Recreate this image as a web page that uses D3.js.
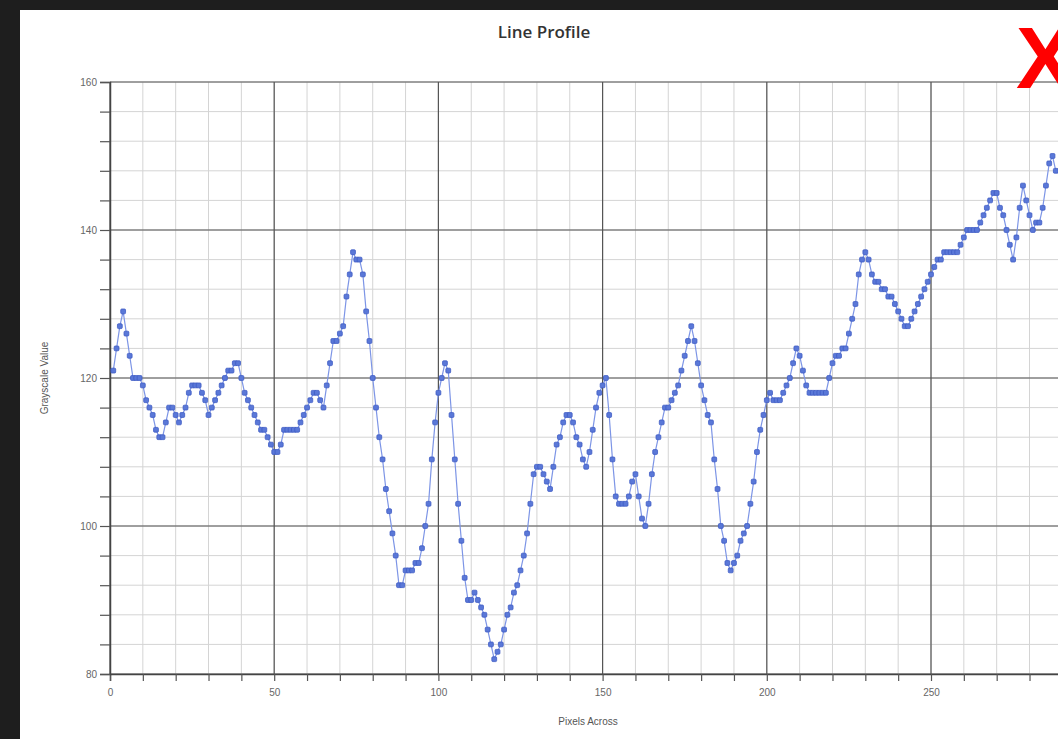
<!DOCTYPE html>
<html>
<head>
<meta charset="utf-8">
<script src="https://cdn.jsdelivr.net/npm/d3@7"></script>
<style>
  html, body { margin: 0; padding: 0; background: #1e1e1e; overflow: hidden; }
  svg { display: block; }
</style>
</head>
<body>
<script>

// pixel positions along the line (x) and their grayscale values (y)
var startPixel = 1;
var grayValues = [
  121, 124, 127, 129, 126, 123, 120, 120, 120, 119,   // 1-10
  117, 116, 115, 113, 112, 112, 114, 116, 116, 115,   // 11-20
  114, 115, 116, 118, 119, 119, 119, 118, 117, 115,   // 21-30
  116, 117, 118, 119, 120, 121, 121, 122, 122, 120,   // 31-40
  118, 117, 116, 115, 114, 113, 113, 112, 111, 110,   // 41-50
  110, 111, 113, 113, 113, 113, 113, 114, 115, 116,   // 51-60
  117, 118, 118, 117, 116, 119, 122, 125, 125, 126,   // 61-70
  127, 131, 134, 137, 136, 136, 134, 129, 125, 120,   // 71-80
  116, 112, 109, 105, 102, 99, 96, 92, 92, 94,        // 81-90
  94, 94, 95, 95, 97, 100, 103, 109, 114, 118,        // 91-100
  120, 122, 121, 115, 109, 103, 98, 93, 90, 90,       // 101-110
  91, 90, 89, 88, 86, 84, 82, 83, 84, 86,             // 111-120
  88, 89, 91, 92, 94, 96, 99, 103, 107, 108,          // 121-130
  108, 107, 106, 105, 108, 111, 112, 114, 115, 115,   // 131-140
  114, 112, 111, 109, 108, 110, 113, 116, 118, 119,   // 141-150
  120, 115, 109, 104, 103, 103, 103, 104, 106, 107,   // 151-160
  104, 101, 100, 103, 107, 110, 112, 114, 116, 116,   // 161-170
  117, 118, 119, 121, 123, 125, 127, 125, 122, 119,   // 171-180
  117, 115, 114, 109, 105, 100, 98, 95, 94, 95,       // 181-190
  96, 98, 99, 100, 103, 106, 110, 113, 115, 117,      // 191-200
  118, 117, 117, 117, 118, 119, 120, 122, 124, 123,   // 201-210
  121, 119, 118, 118, 118, 118, 118, 118, 120, 122,   // 211-220
  123, 123, 124, 124, 126, 128, 130, 134, 136, 137,   // 221-230
  136, 134, 133, 133, 132, 132, 131, 131, 130, 129,   // 231-240
  128, 127, 127, 128, 129, 130, 131, 132, 133, 134,   // 241-250
  135, 136, 136, 137, 137, 137, 137, 137, 138, 139,   // 251-260
  140, 140, 140, 140, 141, 142, 143, 144, 145, 145,   // 261-270
  143, 142, 140, 138, 136, 139, 143, 146, 144, 142,   // 271-280
  140, 141, 141, 143, 146, 149, 150, 148              // 281-288
];

var xMajorTicks = [0, 50, 100, 150, 200, 250];
var yMajorTicks = [80, 100, 120, 140, 160];

var chartTitle = "Line Profile";
var xLabel = "Pixels Across";
var yLabel = "Grayscale Value";


window.onload = function() {

  var width = 1058;
  var height = 739;

  // outer svg with the dark frame and white panel
  var svg = d3.select("body")
              .append("svg")
              .attr("width", width)
              .attr("height", height);

  svg.append("rect")
     .attr("x", 20)
     .attr("y", 10)
     .attr("width", width - 20)
     .attr("height", height - 10)
     .attr("fill", "#ffffff");

  var points = grayValues.map(function(v, i) {
    return {x: startPixel + i, y: v};
  });

  makeChart(svg, points);
};


function makeChart(svg, points) {
  /*
  Draws grid, axes, labels and the profile line
  */

  // scales: x axis runs past the right edge of the window
  var xScale = d3.scaleLinear()
                 .domain([0, 300])
                 .range([110, 110 + 300 * 3.284]);
  var yScale = d3.scaleLinear()
                 .domain([80, 160])
                 .range([674, 82]);

  var plotRight = 1100;

  // minor grid
  var grid = svg.append("g");
  grid.selectAll(".xminor")
      .data(d3.range(0, 301, 10))
      .enter()
      .append("line")
      .attr("x1", function(d) { return xScale(d); })
      .attr("x2", function(d) { return xScale(d); })
      .attr("y1", yScale(160))
      .attr("y2", yScale(80))
      .attr("stroke", "#d4d4d4")
      .attr("stroke-width", 1);
  grid.selectAll(".yminor")
      .data(d3.range(80, 161, 4))
      .enter()
      .append("line")
      .attr("x1", xScale(0))
      .attr("x2", plotRight)
      .attr("y1", function(d) { return yScale(d); })
      .attr("y2", function(d) { return yScale(d); })
      .attr("stroke", "#d4d4d4")
      .attr("stroke-width", 1);

  // major grid
  grid.selectAll(".xmajor")
      .data(xMajorTicks)
      .enter()
      .append("line")
      .attr("x1", function(d) { return xScale(d); })
      .attr("x2", function(d) { return xScale(d); })
      .attr("y1", yScale(160))
      .attr("y2", yScale(80))
      .attr("stroke", "#555555")
      .attr("stroke-width", 1.2);
  grid.selectAll(".ymajor")
      .data(yMajorTicks)
      .enter()
      .append("line")
      .attr("x1", xScale(0))
      .attr("x2", plotRight)
      .attr("y1", function(d) { return yScale(d); })
      .attr("y2", function(d) { return yScale(d); })
      .attr("stroke", "#555555")
      .attr("stroke-width", 1.2);

  // axes
  var xAxis = d3.axisBottom(xScale)
                .tickValues(d3.range(0, 291, 10))
                .tickSize(7)
                .tickFormat(function(d) {
                  return xMajorTicks.indexOf(d) >= 0 ? d : "";
                });
  var yAxis = d3.axisLeft(yScale)
                .tickValues(d3.range(80, 161, 4))
                .tickSize(10)
                .tickFormat(function(d) {
                  return yMajorTicks.indexOf(d) >= 0 ? d : "";
                });

  var gx = svg.append("g")
              .attr("transform", "translate(0," + yScale(80) + ")")
              .call(xAxis);
  var gy = svg.append("g")
              .attr("transform", "translate(" + xScale(0) + ",0)")
              .call(yAxis);

  [gx, gy].forEach(function(g) {
    g.select(".domain").attr("stroke", "#444444").attr("stroke-width", 1.5);
    g.selectAll(".tick line").attr("stroke", "#555555").attr("stroke-width", 1.2);
    g.selectAll("text")
     .attr("fill", "#666666")
     .style("font-family", "'Liberation Sans', Arial, sans-serif")
     .style("font-size", "10px");
  });
  gx.selectAll("text").attr("dy", "1.2em");
  gy.selectAll("text").attr("x", -13);

  // profile line
  var line = d3.line()
               .x(function(d) { return xScale(d.x); })
               .y(function(d) { return yScale(d.y); });

  svg.append("path")
     .datum(points)
     .attr("d", line)
     .attr("fill", "none")
     .attr("stroke", "#7d95e6")
     .attr("stroke-width", 1.2);

  svg.selectAll(".pt")
     .data(points)
     .enter()
     .append("rect")
     .attr("x", function(d) { return xScale(d.x) - 2.4; })
     .attr("y", function(d) { return yScale(d.y) - 2.4; })
     .attr("width", 4.8)
     .attr("height", 4.8)
     .attr("rx", 1)
     .attr("fill", "#5a78d8")
     .attr("stroke", "#3f5cc4")
     .attr("stroke-width", 0.8);

  // title
  svg.append("text")
     .attr("x", 544)
     .attr("y", 38)
     .style("text-anchor", "middle")
     .style("font-family", "'Open Sans', 'Noto Sans', sans-serif")
     .style("font-size", "17px")
     .style("font-weight", "600")
     .attr("fill", "#333333")
     .text(chartTitle);

  // x label
  svg.append("text")
     .attr("x", 588)
     .attr("y", 725)
     .style("text-anchor", "middle")
     .style("font-family", "'Liberation Sans', Arial, sans-serif")
     .style("font-size", "10px")
     .attr("fill", "#555555")
     .text(xLabel);

  // y label
  svg.append("text")
     .attr("transform", "translate(48,378) rotate(-90)")
     .style("text-anchor", "middle")
     .style("font-family", "'Liberation Sans', Arial, sans-serif")
     .style("font-size", "10px")
     .attr("fill", "#555555")
     .text(yLabel);

  // red close mark in the corner, cut by the window edge as in the picture
  svg.append("text")
     .attr("x", 1016)
     .attr("y", 88)
     .style("font-family", "'Liberation Sans', Arial, sans-serif")
     .style("font-size", "88px")
     .style("font-weight", "bold")
     .attr("fill", "#ff0000")
     .text("X");
}
</script>
</body>
</html>
